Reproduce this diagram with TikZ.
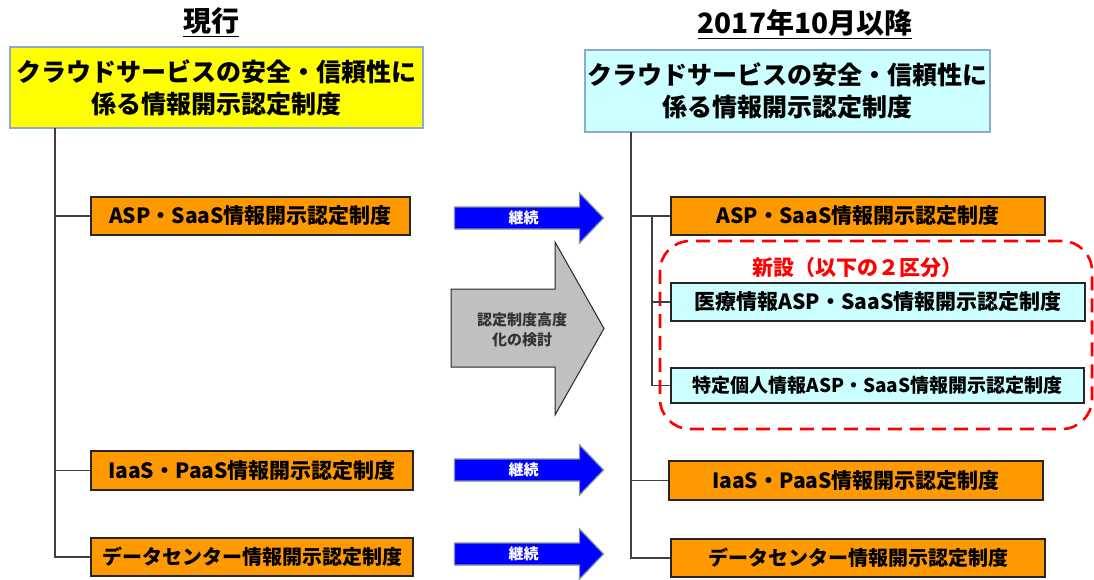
\documentclass[tikz,border=0pt]{standalone}
\usepackage{fontspec}
\setmainfont{Noto Sans CJK JP}
\usetikzlibrary{positioning}
\definecolor{orng}{HTML}{FF9900}
\definecolor{lcyan}{HTML}{CCFFFF}
\definecolor{yell}{HTML}{FFFF00}
\definecolor{bordblue}{HTML}{8EA9D0}
\definecolor{conn}{HTML}{404040}
\definecolor{arrblue}{HTML}{0000FF}
\definecolor{arrbord}{HTML}{7F8FA8}
\definecolor{graya}{HTML}{C0C0C0}
\begin{document}
\begin{tikzpicture}[x=1pt,y=-1pt,
  bigbox/.style={draw=bordblue,line width=1.5pt,align=center,inner sep=0pt,font=\bfseries\fontsize{25}{32}\selectfont},
  obox/.style={draw=black!85,fill=orng,line width=1.3pt,inner sep=0pt,font=\bfseries\fontsize{21}{24}\selectfont},
  cbox/.style={draw=black!85,fill=lcyan,line width=1.3pt,inner sep=0pt,font=\bfseries\fontsize{21}{24}\selectfont},
  title/.style={inner sep=0pt,font=\bfseries\fontsize{28}{30}\selectfont},
  conline/.style={draw=conn,line width=1.5pt},
  redgroup/.style={draw=red,line width=2.6pt,dash pattern=on 14pt off 8pt,rounded corners=30pt,inner sep=0pt},
  blarrow/.pic={
    \draw[fill=arrblue,draw=arrbord,line width=1.2pt] (-75,-11) -- (50,-11) -- (50,-25) -- (74,0) -- (50,25) -- (50,11) -- (-75,11) -- cycle;
    \node[text=white,font=\bfseries\fontsize{15}{16}\selectfont,inner sep=0pt] (-t) at (-6,0) {継続};
  }]
\useasboundingbox (0,0) rectangle (1094,579);

% titles
\node[title] (tl) at (211,22) {\underline{現行}};
\node[title] (tr) at (805,24) {\underline{2017年10月以降}};

% big boxes
\node[bigbox,fill=yell,minimum width=413pt,minimum height=81pt] (lbig) at (216.5,87.5)
  {クラウドサービスの安全・信頼性に\\係る情報開示認定制度};
\node[bigbox,fill=lcyan,minimum width=405pt,minimum height=82pt] (rbig) at (787.5,91)
  {クラウドサービスの安全・信頼性に\\係る情報開示認定制度};

% left column
\node[obox,minimum width=319pt,minimum height=38pt] (lasp) at (250.5,216) {ASP・SaaS情報開示認定制度};
\node[obox,minimum width=322pt,minimum height=39pt] (liaas) at (252,470.5) {IaaS・PaaS情報開示認定制度};
\node[obox,minimum width=322pt,minimum height=38pt,font=\bfseries\fontsize{20}{24}\selectfont] (ldc) at (252,557) {データセンター情報開示認定制度};

% right column
\node[obox,minimum width=374pt,minimum height=38pt] (rasp) at (858,216) {ASP・SaaS情報開示認定制度};
\node[redgroup,minimum width=432pt,minimum height=188pt] (grp) at (876,335) {};
\node[text=red,font=\bfseries\fontsize{21}{24}\selectfont,inner sep=0pt] (newl) at (857,268) {新設（以下の２区分）};
\node[cbox,minimum width=414pt,minimum height=38pt] (med) at (878,302) {医療情報ASP・SaaS情報開示認定制度};
\node[cbox,minimum width=413pt,minimum height=35pt,font=\bfseries\fontsize{19}{22}\selectfont] (spc) at (877.5,385.5) {特定個人情報ASP・SaaS情報開示認定制度};
\node[obox,minimum width=374pt,minimum height=39pt] (riaas) at (856,480.5) {IaaS・PaaS情報開示認定制度};
\node[obox,minimum width=374pt,minimum height=38pt,font=\bfseries\fontsize{20}{24}\selectfont] (rdc) at (858,558) {データセンター情報開示認定制度};

% arrows
\pic (a1) at (529.5,218) {blarrow};
\pic (a2) at (529.5,470) {blarrow};
\pic (a3) at (529.5,554) {blarrow};
\draw[fill=graya,draw=black!85,line width=1pt] (451,289) -- (555,289) -- (555,242) -- (604,328.5) -- (555,415) -- (555,367) -- (451,367) -- cycle;
\node[align=center,text=black!80,font=\bfseries\fontsize{15}{20}\selectfont,inner sep=0pt] (gtext) at (522,330) {認定制度高度\\化の検討};

% connectors left
\coordinate (lt) at (55,128);
\draw[conline] (lt) |- (ldc.west);
\draw[conline] (lasp.west -| lt) -- (lasp.west);
\draw[conline] (liaas.west -| lt) -- (liaas.west);

% connectors right
\coordinate (rt) at (631,132);
\coordinate (it) at (652,216);
\draw[conline] (rt) |- (rdc.west);
\draw[conline] (rasp.west -| rt) -- (rasp.west);
\draw[conline] (riaas.west -| rt) -- (riaas.west);
\draw[conline] (it) |- (spc.west);
\draw[conline] (med.west -| it) -- (med.west);
\end{tikzpicture}
\end{document}
